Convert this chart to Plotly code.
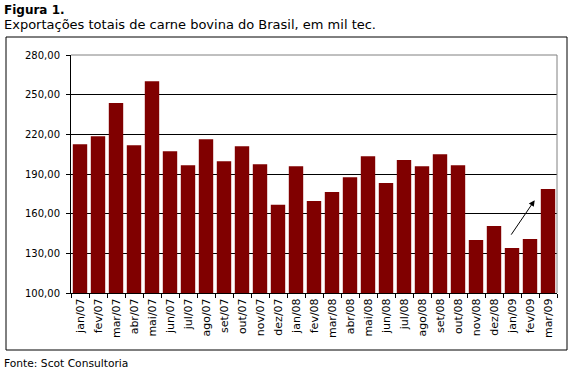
import plotly.graph_objects as go

months = ["jan/07", "fev/07", "mar/07", "abr/07", "mai/07", "jun/07", "jul/07", "ago/07",
          "set/07", "out/07", "nov/07", "dez/07", "jan/08", "fev/08", "mar/08", "abr/08",
          "mai/08", "jun/08", "jul/08", "ago/08", "set/08", "out/08", "nov/08", "dez/08",
          "jan/09", "fev/09", "mar/09"]
exports = [212.5, 218.6, 243.7, 211.8, 260.1, 207.3, 196.7, 216.3,
           199.7, 211.0, 197.4, 166.7, 195.9, 169.5, 176.3, 187.6,
           203.5, 183.1, 200.5, 195.9, 205.0, 196.7, 140.0, 150.6,
           134.0, 140.8, 178.6]
y_ticks = [100, 130, 160, 190, 220, 250, 280]
y_ticktext = ["100,00", "130,00", "160,00", "190,00", "220,00", "250,00", "280,00"]

W, H = 577, 371
L, R, T, B = 71, 557, 55, 293
pw, ph = R - L, B - T


def px(x):
    return (x - L) / pw


def py(y):
    return (B - y) / ph


font = "DejaVu Sans, Verdana, sans-serif"

fig = go.Figure(go.Bar(
    x=months, y=exports, marker=dict(color="#800000", line=dict(width=0)),
    showlegend=False, hoverinfo="skip",
))

fig.update_layout(
    width=W, height=H,
    margin=dict(l=L, r=W - R, t=T, b=H - B, pad=0),
    paper_bgcolor="white", plot_bgcolor="white",
    font=dict(family=font, size=10, color="black"),
    bargap=0.2,
    xaxis=dict(type="category", showline=True, linecolor="black", linewidth=1,
               ticks="outside", tickson="boundaries", ticklen=4, tickcolor="black",
               tickangle=-90, tickfont=dict(size=11, family=font), showgrid=False),
    yaxis=dict(range=[100, 280], tickvals=y_ticks, ticktext=y_ticktext,
               showline=True, linecolor="black", linewidth=1,
               ticks="outside", ticklen=4, tickcolor="black",
               showgrid=True, gridcolor="black", gridwidth=1,
               ticklabelstandoff=4,
               tickfont=dict(size=10, family=font), zeroline=False),
    shapes=[
        dict(type="line", xref="paper", yref="paper", x0=0, x1=1, y0=1, y1=1,
             line=dict(color="#808080", width=1), layer="above"),
        dict(type="line", xref="paper", yref="paper", x0=1, x1=1, y0=0, y1=1,
             line=dict(color="#808080", width=1), layer="above"),
        dict(type="rect", xref="paper", yref="paper",
             x0=px(6), x1=px(567), y0=py(350), y1=py(37),
             line=dict(color="black", width=1), fillcolor="rgba(0,0,0,0)"),
    ],
    annotations=[
        dict(text="<b>Figura 1.</b>", xref="paper", yref="paper", x=px(2), y=py(10),
             xanchor="left", yanchor="middle", showarrow=False,
             font=dict(size=12, family=font)),
        dict(text="Exportações totais de carne bovina do Brasil, em mil tec.",
             xref="paper", yref="paper", x=px(2), y=py(24),
             xanchor="left", yanchor="middle", showarrow=False,
             font=dict(size=13, family=font)),
        dict(text="Fonte: Scot Consultoria", xref="paper", yref="paper",
             x=px(2), y=py(363), xanchor="left", yanchor="middle", showarrow=False,
             font=dict(size=10.7, family=font)),
        dict(x=25.26, y=170.2, ax=23.9, ay=143.0, xref="x", yref="y",
             axref="x", ayref="y", text="", showarrow=True, arrowhead=2,
             arrowsize=1.2, arrowwidth=1, arrowcolor="black"),
    ],
)

fig.write_html("out.html", config={"displayModeBar": False},
               post_script="document.body.style.margin='0';document.body.style.overflow='hidden';")
